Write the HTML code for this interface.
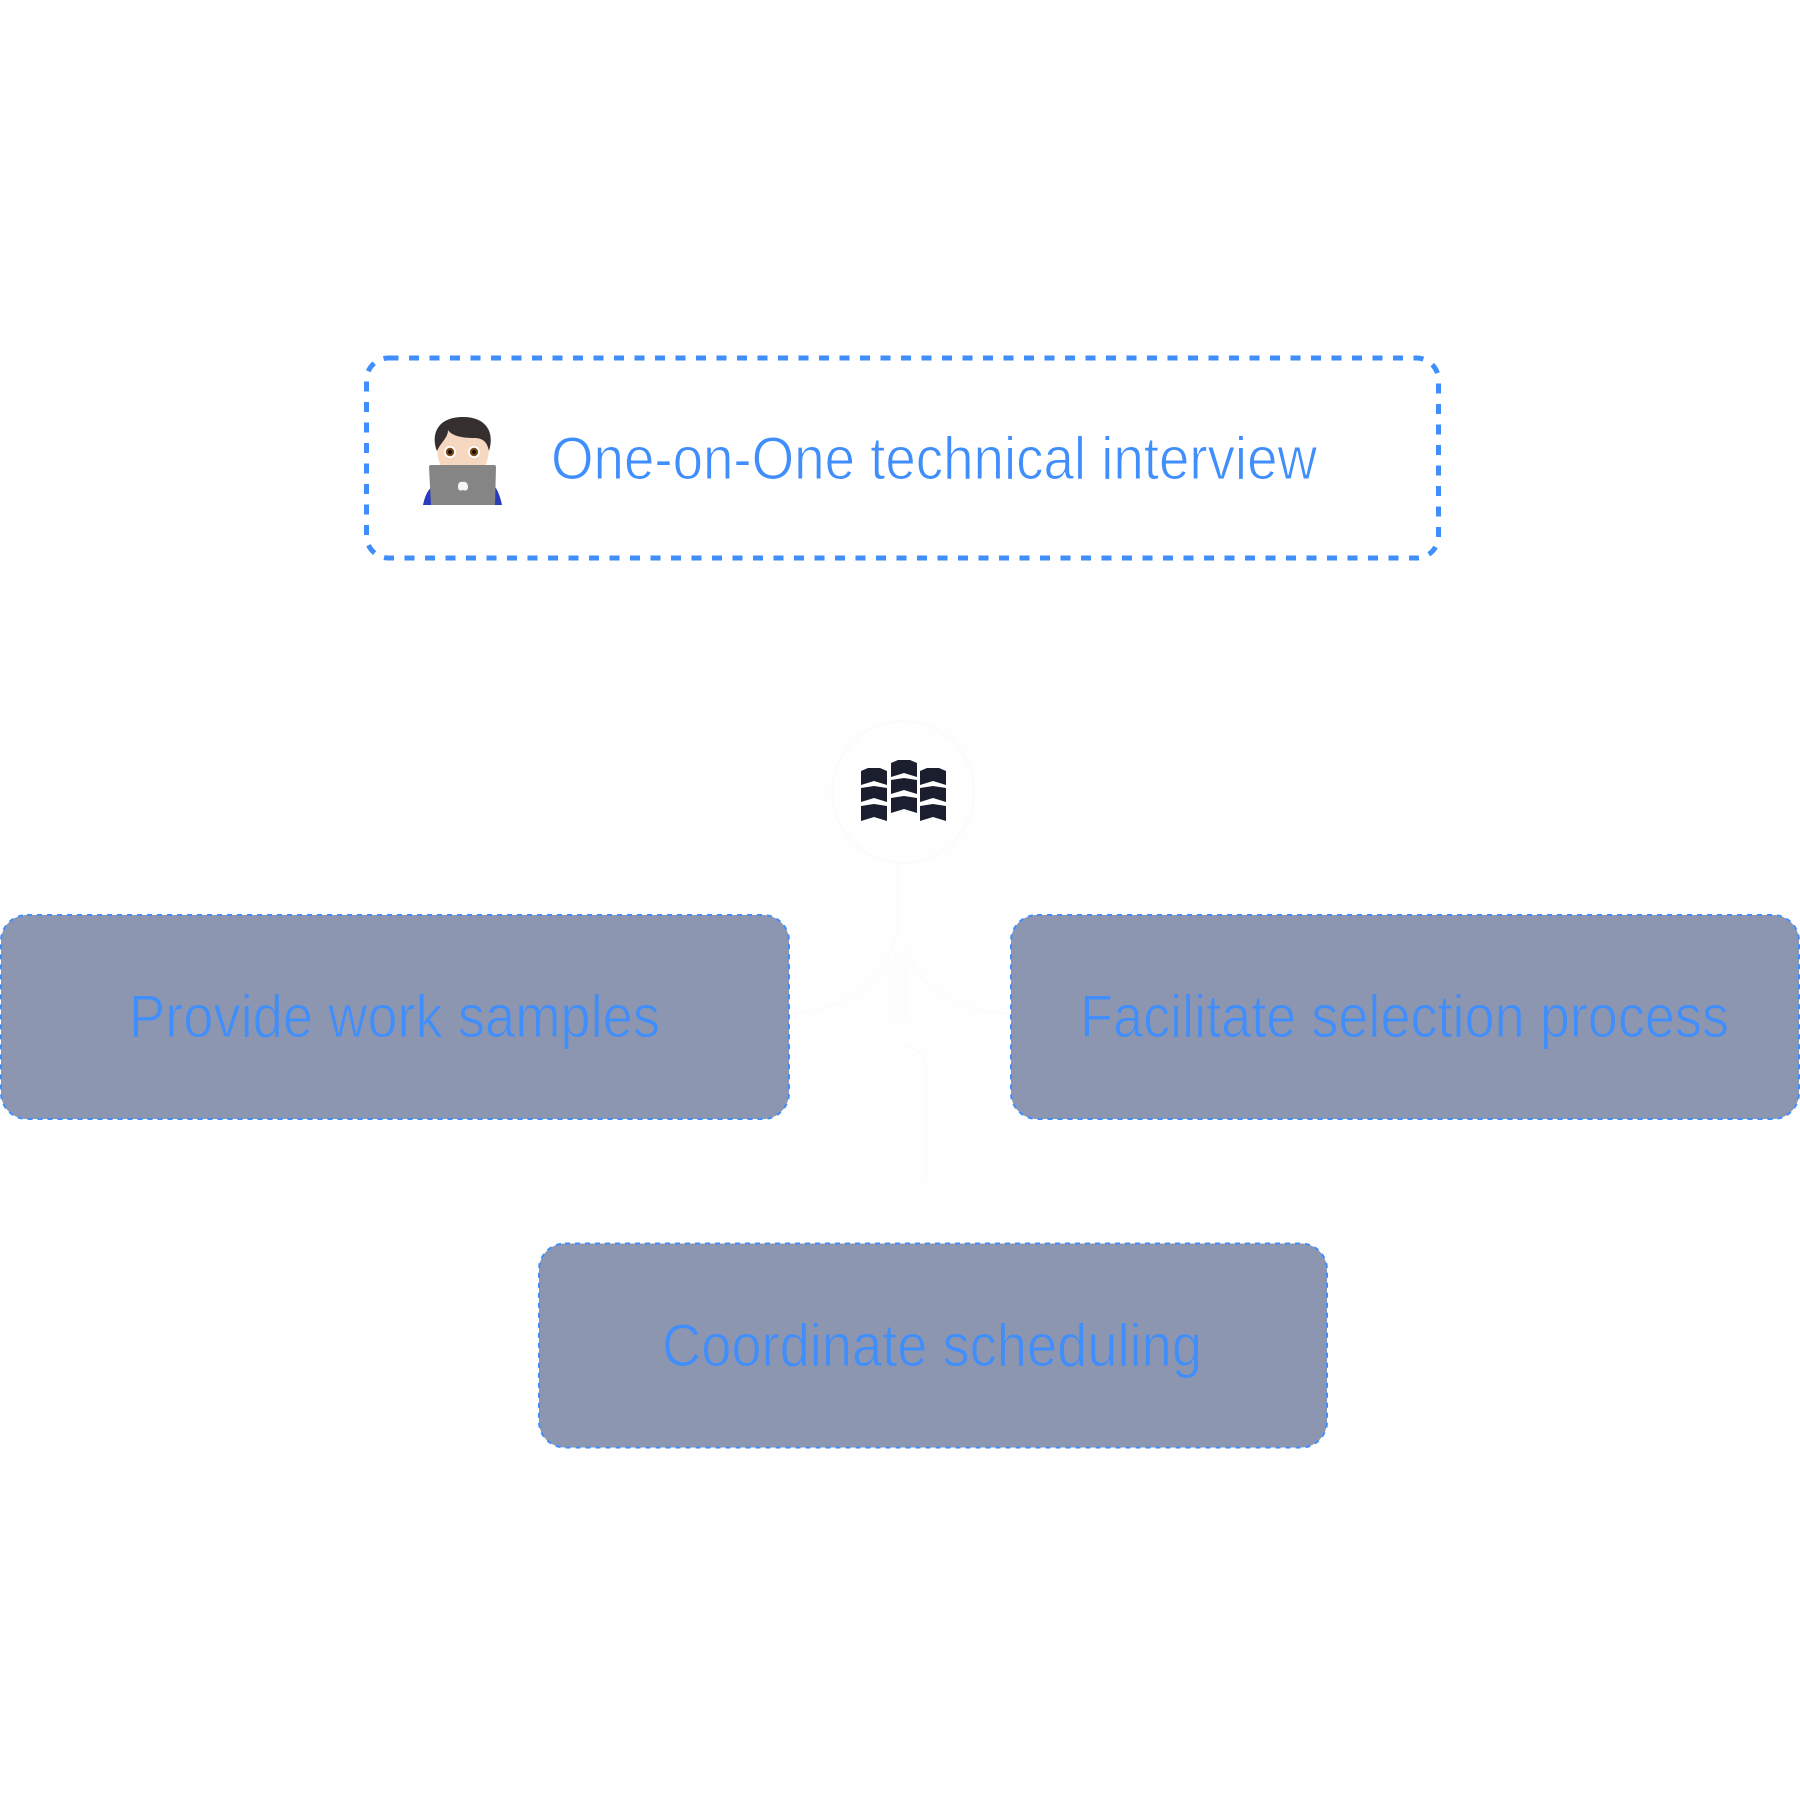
<!DOCTYPE html>
<html><head><meta charset="utf-8"><style>
html,body{margin:0;padding:0;background:#fefefe}
svg{display:block}
text{font-family:"Liberation Sans",sans-serif;font-size:60px;fill:#3f8efc;stroke:#fefefe;stroke-width:1.1px}
.g text{stroke:#8c96b0}
</style></head><body>
<svg width="1800" height="1800" viewBox="0 0 1800 1800" xmlns="http://www.w3.org/2000/svg">
<rect width="1800" height="1800" fill="#fefefe"/>
<!-- top box -->
<rect x="366.5" y="358" width="1072" height="200" rx="22" fill="#fff" stroke="#3f8efc" stroke-width="5" stroke-dasharray="10 10.5"/>
<text x="551" y="479" textLength="766" lengthAdjust="spacingAndGlyphs">One-on-One technical interview</text>
<!-- emoji -->
<path d="M423 505 Q426 490 434 485 L441 482 L488 482 L496 488 Q500 495 502 505Z" fill="#2b3bbd"/>
<path d="M437 445 Q437 472 452 472 L474 472 Q489 472 489 445 L489 430 L437 430Z" fill="#f6d7bf"/>
<path d="M437 451 C431 436 436 417 463 417 C486 417 495 432 489 451 C487 441 482 438 474 438 C462 438 452 436 448 430 C448 438 441 442 437 451Z" fill="#35302f"/>
<circle cx="450" cy="452" r="6" fill="#fff"/><circle cx="474" cy="452" r="6" fill="#fff"/>
<circle cx="450" cy="452" r="4.2" fill="#7a4a18"/><circle cx="474" cy="452" r="4.2" fill="#7a4a18"/>
<circle cx="450" cy="452" r="2.2" fill="#1d120a"/><circle cx="474" cy="452" r="2.2" fill="#1d120a"/>
<path d="M429 467 Q429 465 431 465 L494 465 Q496 465 496 467 L495 505 L431 505Z" fill="#858586"/>
<path d="M463 482 C459 481 458 484 458 487 C458 491 461 491 463 490 C465 491 468 491 468 487 C468 484 466 481 463 482Z" fill="#f5f5f5"/>
<!-- hub -->
<circle cx="903" cy="792" r="71" fill="#fefefe" stroke="#f9f9f9" stroke-width="1.2"/>
<g fill="#1b1e2e">
<path d="M861 771 L868 768 L880 768 L887 771 V785 L874 781 L861 785Z"/>
<path d="M861 788 L874 786 L887 788 V802 L874 798 L861 802Z"/>
<path d="M861 806 L874 804 L887 806 V821 L874 817 L861 821Z"/>
<path d="M891 763 L898 760 L910 760 L917 763 V777 L904 773 L891 777Z"/>
<path d="M891 780 L904 778 L917 780 V794 L904 790 L891 794Z"/>
<path d="M891 798 L904 796 L917 798 V813 L904 809 L891 813Z"/>
<path d="M920 771 L927 768 L939 768 L946 771 V785 L933 781 L920 785Z"/>
<path d="M920 788 L933 786 L946 788 V802 L933 798 L920 802Z"/>
<path d="M920 806 L933 804 L946 806 V821 L933 817 L920 821Z"/>
</g>
<!-- faint connectors -->
<g fill="none" stroke="#fbfbfb" stroke-width="1.5">
<path d="M898 864 V930"/>
<path d="M897 932 C885 985 845 1010 789 1014"/>
<path d="M907 950 C920 990 960 1012 1011 1014"/>
<path d="M896 950 V1022 M906 950 V1022"/>
<path d="M905 1045 Q925 1050 926 1070 V1180"/>
</g>
<!-- lower boxes -->
<rect x="1" y="915" width="788" height="204" rx="26" fill="#8c96b0" stroke="#3f8efc" stroke-width="2" stroke-dasharray="5 5"/>
<rect x="1011" y="915" width="788" height="204" rx="26" fill="#8c96b0" stroke="#3f8efc" stroke-width="2" stroke-dasharray="5 5"/>
<rect x="539" y="1243.500" width="788" height="204" rx="26" fill="#8c96b0" stroke="#3f8efc" stroke-width="2" stroke-dasharray="5 5"/>
<g class="g">
<text x="129" y="1037" textLength="531" lengthAdjust="spacingAndGlyphs">Provide work samples</text>
<text x="1080" y="1037" textLength="649" lengthAdjust="spacingAndGlyphs">Facilitate selection process</text>
<text x="662" y="1366" textLength="540" lengthAdjust="spacingAndGlyphs">Coordinate scheduling</text>
</g>
</svg>
</body></html>
